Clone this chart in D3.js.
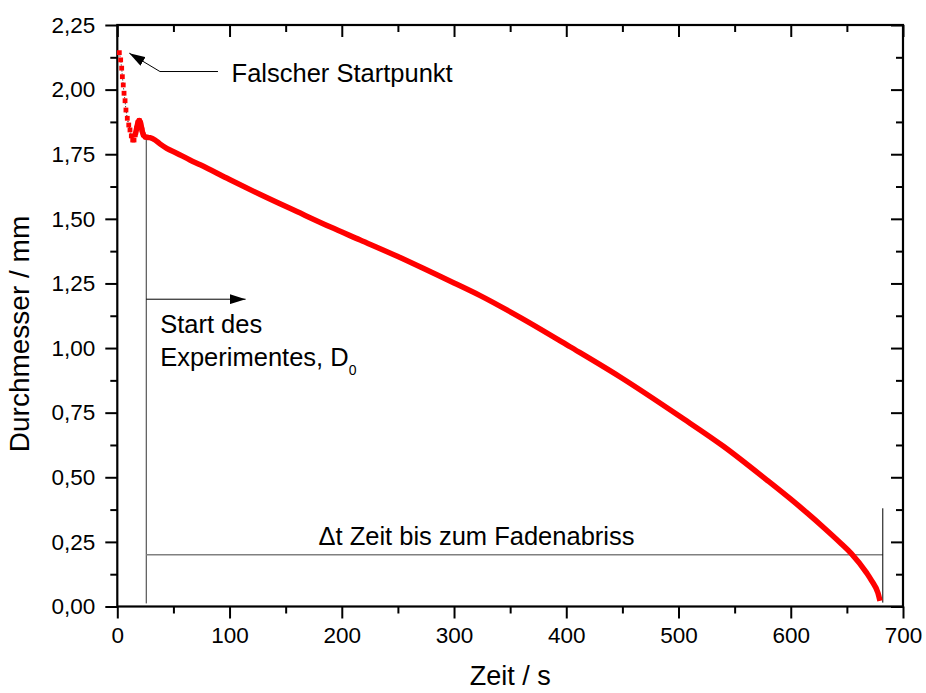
<!DOCTYPE html>
<html>
<head>
<meta charset="utf-8">
<script src="https://d3js.org/d3.v7.min.js"></script>
<style>
body { margin: 0; background: #fff; }
svg { font-family: "Liberation Sans", Arial, sans-serif; }
.tick text { font-size: 22.5px; fill: #000; }
.tick line { stroke: #000; stroke-width: 2; }
.note { font-size: 25.5px; fill: #000; }
</style>
</head>
<body>
<svg width="926" height="693"></svg>
<script>
const zeit = [1.8, 3.0, 3.9, 4.5, 5.3, 6.0, 6.9, 7.7, 8.9, 10.2, 11.3, 12.5, 13.7, 14.9,
  16.0, 17.3, 18.4, 19.6, 20.8, 22.0, 23.2, 25.6, 29.1, 33.6, 38, 44, 52.9, 64.7, 73.9,
  100, 127.4, 160, 190, 216.4, 250, 280, 300, 323.3, 360, 403.4, 448, 501.4, 540, 578.5,
  600, 614, 630, 645, 654, 667.6, 672, 677.7, 679.5];
const durchmesser = [2.143, 2.115, 2.083, 2.050, 2.018, 1.986, 1.957, 1.921, 1.889, 1.863,
  1.844, 1.821, 1.805, 1.805, 1.825, 1.851, 1.872, 1.880, 1.870, 1.844, 1.825, 1.816, 1.814,
  1.805, 1.790, 1.773, 1.754, 1.728, 1.709, 1.652, 1.594, 1.528, 1.468, 1.418, 1.354, 1.293,
  1.252, 1.203, 1.116, 1.005, 0.888, 0.735, 0.620, 0.490, 0.415, 0.364, 0.303, 0.243, 0.205,
  0.130, 0.100, 0.052, 0.022];

const xTicks = [0, 100, 200, 300, 400, 500, 600, 700];
const yTicks = [0, 0.25, 0.5, 0.75, 1, 1.25, 1.5, 1.75, 2, 2.25];

const margin = {top: 25, right: 23, bottom: 86.5, left: 117.3};
const width = 926 - margin.left - margin.right;
const height = 693 - margin.top - margin.bottom;

const svg = d3.select("svg");
const g = svg.append("g").attr("transform", `translate(${margin.left},${margin.top})`);

const x = d3.scaleLinear().domain([0, 700]).range([0, width]);
const y = d3.scaleLinear().domain([0, 2.25]).range([height, 0]);

const de = d3.formatLocale({decimal: ",", thousands: ".", grouping: [3], currency: ["", "€"]});
const fmtY = de.format(".2f");

const xMinor = d3.range(50, 700, 100);
const yMinor = d3.range(0.125, 2.25, 0.25);

// Achsen
g.append("g").attr("transform", `translate(0,${height})`)
  .call(d3.axisBottom(x).tickValues(xTicks).tickSize(12).tickPadding(9))
  .call(a => a.select(".domain").remove());
g.append("g").attr("transform", `translate(0,${height})`)
  .call(d3.axisBottom(x).tickValues(xMinor).tickSize(7).tickFormat(""))
  .call(a => a.select(".domain").remove());
g.append("g")
  .call(d3.axisLeft(y).tickValues(yTicks).tickSize(12).tickPadding(10).tickFormat(fmtY))
  .call(a => a.select(".domain").remove());
g.append("g")
  .call(d3.axisLeft(y).tickValues(yMinor).tickSize(7).tickFormat(""))
  .call(a => a.select(".domain").remove());
// oben / rechts nach innen
g.append("g")
  .call(d3.axisTop(x).tickValues(xTicks).tickSize(-12).tickFormat(""))
  .call(a => a.select(".domain").remove());
g.append("g")
  .call(d3.axisTop(x).tickValues(xMinor).tickSize(-7).tickFormat(""))
  .call(a => a.select(".domain").remove());
g.append("g").attr("transform", `translate(${width},0)`)
  .call(d3.axisRight(y).tickValues(yTicks).tickSize(-12).tickFormat(""))
  .call(a => a.select(".domain").remove());
g.append("g").attr("transform", `translate(${width},0)`)
  .call(d3.axisRight(y).tickValues(yMinor).tickSize(-7).tickFormat(""))
  .call(a => a.select(".domain").remove());

g.append("rect").attr("width", width).attr("height", height)
  .attr("fill", "none").attr("stroke", "#000").attr("stroke-width", 2.2);

// Achsentitel
svg.append("text")
  .attr("x", margin.left + width / 2).attr("y", 685)
  .attr("text-anchor", "middle").attr("font-size", 27)
  .text("Zeit / s");
svg.append("text")
  .attr("transform", "translate(29,334) rotate(-90)")
  .attr("text-anchor", "middle").attr("font-size", 28)
  .text("Durchmesser / mm");

// Markierungen
g.append("defs").append("marker")
  .attr("id", "pfeil").attr("viewBox", "0 0 16 10")
  .attr("refX", 16).attr("refY", 5)
  .attr("markerWidth", 16).attr("markerHeight", 10)
  .attr("markerUnits", "userSpaceOnUse").attr("orient", "auto")
  .append("path").attr("d", "M0,0L16,5L0,10Z").attr("fill", "#000");

const line = d3.line().x(d => x(d[0])).y(d => y(d[1]));

// Start des Experiments
g.append("line")
  .attr("x1", x(25.8)).attr("x2", x(25.8))
  .attr("y1", y(1.81)).attr("y2", y(0.012))
  .attr("stroke", "#333").attr("stroke-width", 1);
g.append("path")
  .attr("d", line([[25.8, 1.189], [114.3, 1.189]]))
  .attr("stroke", "#000").attr("stroke-width", 1).attr("fill", "none")
  .attr("marker-end", "url(#pfeil)");
g.append("text").attr("class", "note")
  .attr("x", x(38.2)).attr("y", y(1.058))
  .text("Start des");
const ex = g.append("text").attr("class", "note")
  .attr("x", x(38.2)).attr("y", y(0.932));
ex.append("tspan").text("Experimentes, D");
ex.append("tspan").attr("font-size", 14).attr("dy", 9).text("0");

// Falscher Startpunkt
g.append("path")
  .attr("d", line([[89.7, 2.07], [38, 2.07], [10.7, 2.141]]))
  .attr("stroke", "#000").attr("stroke-width", 1).attr("fill", "none")
  .attr("marker-end", "url(#pfeil)");
g.append("text").attr("class", "note")
  .attr("x", x(101.8)).attr("y", y(2.03))
  .text("Falscher Startpunkt");

// Δt bis zum Fadenabriss
g.append("line")
  .attr("x1", x(25.8)).attr("x2", x(682))
  .attr("y1", y(0.2)).attr("y2", y(0.2))
  .attr("stroke", "#808080").attr("stroke-width", 1.6);
g.append("line")
  .attr("x1", x(682)).attr("x2", x(682))
  .attr("y1", y(0.38)).attr("y2", y(0.015))
  .attr("stroke", "#000").attr("stroke-width", 1);
g.append("text").attr("class", "note")
  .attr("x", x(320)).attr("y", y(0.238))
  .attr("text-anchor", "middle")
  .text("\u0394t Zeit bis zum Fadenabriss");

// Messkurve
const pts = zeit.map((t, i) => [t, durchmesser[i]]);
const frueh = pts.filter(d => d[0] <= 25.6);
const spaet = pts.filter(d => d[0] >= 16);

g.append("path")
  .attr("d", line(frueh))
  .attr("fill", "none").attr("stroke", "#000").attr("stroke-width", 1)
  .attr("stroke-dasharray", "1,2");
g.append("path")
  .attr("d", line.curve(d3.curveMonotoneX)(spaet))
  .attr("fill", "none").attr("stroke", "#ff0000")
  .attr("stroke-width", 5.5).attr("stroke-linejoin", "round");
g.selectAll("rect.pt").data(frueh).join("rect")
  .attr("class", "pt")
  .attr("x", d => x(d[0]) - 2.4).attr("y", d => y(d[1]) - 2.4)
  .attr("width", 4.8).attr("height", 4.8)
  .attr("fill", "#ff0000");
</script>
</body>
</html>
